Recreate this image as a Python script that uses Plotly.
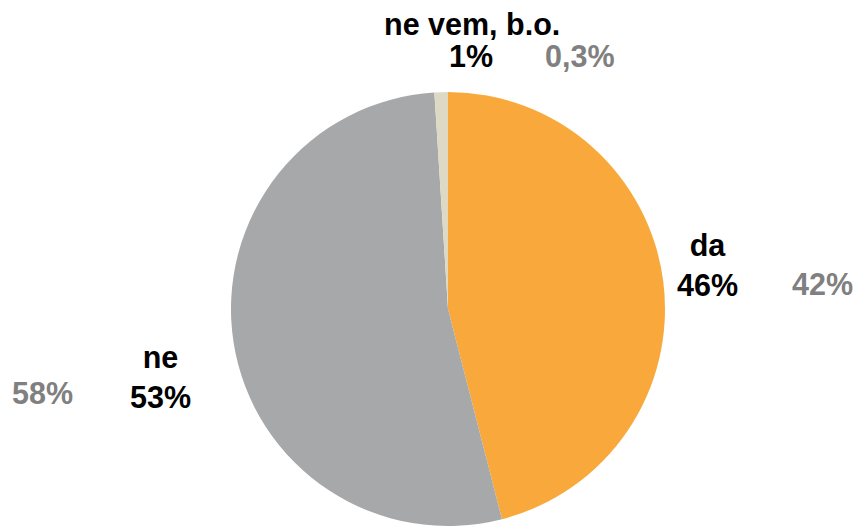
import plotly.graph_objects as go

categories = ["da", "ne", "ne vem, b.o."]
values = [46, 53, 1]
value_labels = ["46%", "53%", "1%"]
previous_labels = ["42%", "58%", "0,3%"]
colors = ["#F9A93B", "#A7A8AA", "#DDD9C4"]

W, H = 854, 526

fig = go.Figure(go.Pie(
    labels=categories,
    values=values,
    sort=False,
    direction="clockwise",
    rotation=0,
    textinfo="none",
    hoverinfo="label+percent",
    marker=dict(colors=colors, line=dict(width=0)),
    domain=dict(x=[(448 - 219) / W, (448 + 219) / W], y=[0.0, 1 - 92 / H]),
    showlegend=False,
))

# label positions in pixels (center x, center y of the block)
main_pos = [(707, 265), (160, 377), (472, 41)]
prev_pos = [(822, 284), (42, 393), (580, 56)]

fnt = "Liberation Sans, Arial, sans-serif"
fs = 30.5
for i, cat in enumerate(categories):
    if cat == "ne vem, b.o.":
        fig.add_annotation(x=main_pos[i][0] / W, y=1 - 24 / H, xref="paper", yref="paper",
                           text="<b>%s</b>" % cat, showarrow=False, xanchor="center", yanchor="middle",
                           font=dict(family=fnt, size=fs, color="#000000"))
        fig.add_annotation(x=471 / W, y=1 - 56 / H, xref="paper", yref="paper",
                           text="<b>%s</b>" % value_labels[i], showarrow=False, xanchor="center", yanchor="middle",
                           font=dict(family=fnt, size=fs, color="#000000"))
    else:
        fig.add_annotation(x=main_pos[i][0] / W, y=1 - main_pos[i][1] / H, xref="paper", yref="paper",
                           text="<b>%s<br>%s</b>" % (cat, value_labels[i]), showarrow=False,
                           xanchor="center", yanchor="middle",
                           font=dict(family=fnt, size=fs, color="#000000"))
    fig.add_annotation(x=prev_pos[i][0] / W, y=1 - prev_pos[i][1] / H, xref="paper", yref="paper",
                       text="<b>%s</b>" % previous_labels[i], showarrow=False,
                       xanchor="center", yanchor="middle",
                       font=dict(family=fnt, size=fs, color="#808080"))

fig.update_layout(
    width=W, height=H,
    margin=dict(l=0, r=0, t=0, b=0),
    paper_bgcolor="white",
    plot_bgcolor="white",
)

fig.write_html("out.html", config={"displayModeBar": False},
               post_script="document.body.style.margin='0';document.body.style.overflow='hidden';")
